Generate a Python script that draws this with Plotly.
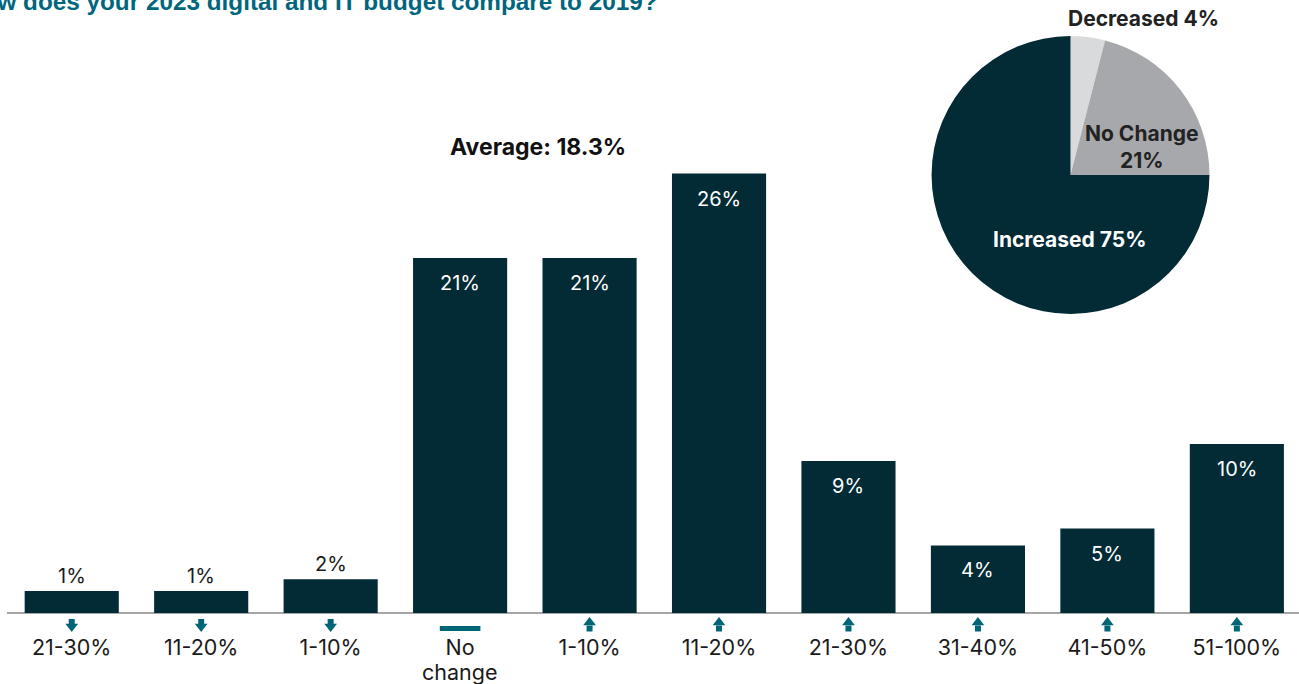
import plotly.graph_objects as go

# ---- data ----
categories = ["21-30%", "11-20%", "1-10%", "No<br>change", "1-10%", "11-20%",
              "21-30%", "31-40%", "41-50%", "51-100%"]
directions = ["down", "down", "down", "none", "up", "up", "up", "up", "up", "up"]
values = [1.3, 1.3, 2, 21, 21, 26, 9, 4, 5, 10]
value_labels = ["1%", "1%", "2%", "21%", "21%", "26%", "9%", "4%", "5%", "10%"]
label_inside = [False, False, False, True, True, True, True, True, True, True]
average_label = "Average: 18.3%"
pie_labels = ["Decreased", "No Change", "Increased"]
pie_values = [4, 21, 75]
title_text = "How does your 2023 digital and IT budget compare to 2019?"

DARK = "#022b35"
TEAL = "#006677"
TXT = "#1a1a1a"
FONT = "Inter"
TICK_SIZE = 21.5

x = list(range(len(categories)))
first_lines = [c.split("<br>")[0] for c in categories]
extra_lines = [c.split("<br>")[1:] for c in categories]

fig = go.Figure()
fig.add_bar(x=x, y=values, marker_color=DARK, marker_line_width=0,
            width=0.727, hoverinfo="skip", showlegend=False)

# direction markers under the baseline
up_x = [xi for xi, d in zip(x, directions) if d == "up"]
down_x = [xi for xi, d in zip(x, directions) if d == "down"]
flat_x = [xi for xi, d in zip(x, directions) if d == "none"]
mk = dict(mode="markers", hoverinfo="skip", showlegend=False, cliponaxis=False)
fig.add_scatter(x=up_x, y=[-0.562] * len(up_x),
                marker=dict(symbol="triangle-up", size=11, color=TEAL, line_width=0), **mk)
fig.add_scatter(x=up_x, y=[-0.917] * len(up_x),
                marker=dict(symbol="square", size=6, color=TEAL, line_width=0), **mk)
fig.add_scatter(x=down_x, y=[-0.533] * len(down_x),
                marker=dict(symbol="square", size=6, color=TEAL, line_width=0), **mk)
fig.add_scatter(x=down_x, y=[-0.80] * len(down_x),
                marker=dict(symbol="triangle-down", size=11, color=TEAL, line_width=0), **mk)
fig.add_scatter(x=flat_x, y=[-0.917] * len(flat_x),
                marker=dict(symbol="line-ew", size=29, color=TEAL,
                            line=dict(width=5, color=TEAL)), **mk)

# pie
pie_colors = ["#d9dadc", "#a7a8ab", DARK]
fig.add_pie(labels=pie_labels, values=pie_values, sort=False, direction="clockwise",
            rotation=0, marker=dict(colors=pie_colors, line=dict(width=0)),
            textinfo="none", hoverinfo="skip", showlegend=False,
            domain=dict(x=[0.7156, 0.9307], y=[1 - 314 / 632, 1 - 36 / 632]))

annotations = []
for xi, v, lab, inside in zip(x, values, value_labels, label_inside):
    annotations.append(dict(
        x=xi, y=v, xref="x", yref="y", text=lab, showarrow=False,
        xanchor="center", yanchor="middle", yshift=-25 if inside else 15,
        font=dict(family=FONT, size=20, color="white" if inside else TXT)))

# second lines of multi-line category labels
for xi, lines in zip(x, extra_lines):
    for k, ln in enumerate(lines):
        annotations.append(dict(
            x=xi, y=1 - (672 + 24 * k) / 632, xref="x", yref="paper", text=ln,
            showarrow=False, xanchor="center", yanchor="middle",
            font=dict(family=FONT, size=TICK_SIZE, color=TXT)))

annotations.append(dict(x=0.411, y=1 - 147 / 632, xref="paper", yref="paper",
                        text=average_label, showarrow=False, xanchor="center",
                        yanchor="middle",
                        font=dict(family=FONT, size=23, color="#111111", weight="bold")))

# pie labels
pie_text = [f"{pie_labels[0]} {pie_values[0]}%",
            f"{pie_labels[1]}<br>{pie_values[1]}%",
            f"{pie_labels[2]} {pie_values[2]}%"]
pie_pos = [(0.8793, 1 - 18.5 / 632), (0.8785, 1 - 146.5 / 632), (0.8228, 1 - 239 / 632)]
pie_col = ["#222222", "#222222", "white"]
for t, (px, py), c in zip(pie_text, pie_pos, pie_col):
    annotations.append(dict(x=px, y=py, xref="paper", yref="paper", text=t, showarrow=False,
                            xanchor="center", yanchor="middle",
                            font=dict(family=FONT, size=21, color=c, weight="bold")))

annotations.append(dict(x=0.5054, y=1, xref="paper", yref="paper", text=title_text,
                        showarrow=False, xanchor="right", yanchor="top", yshift=14,
                        font=dict(family="Liberation Sans", size=24.3, color="#00667e",
                                  weight="bold")))

fig.update_layout(
    width=1299, height=684,
    margin=dict(l=7, r=0, t=0, b=52, autoexpand=False),
    paper_bgcolor="white", plot_bgcolor="white",
    annotations=annotations,
    xaxis=dict(range=[-0.5, 9.48], tickvals=x, ticktext=first_lines, showgrid=False,
               zeroline=False, showline=False, ticks="", ticklabelstandoff=0,
               automargin=False,
               tickfont=dict(family=FONT, size=TICK_SIZE, color=TXT), fixedrange=True),
    yaxis=dict(range=[-19 / 16.9, 613 / 16.9], showgrid=False, showticklabels=False,
               ticks="", showline=False, zeroline=True, zerolinecolor="#a6a6a6",
               zerolinewidth=2, automargin=False, fixedrange=True),
)

fig.write_html("out.html")
